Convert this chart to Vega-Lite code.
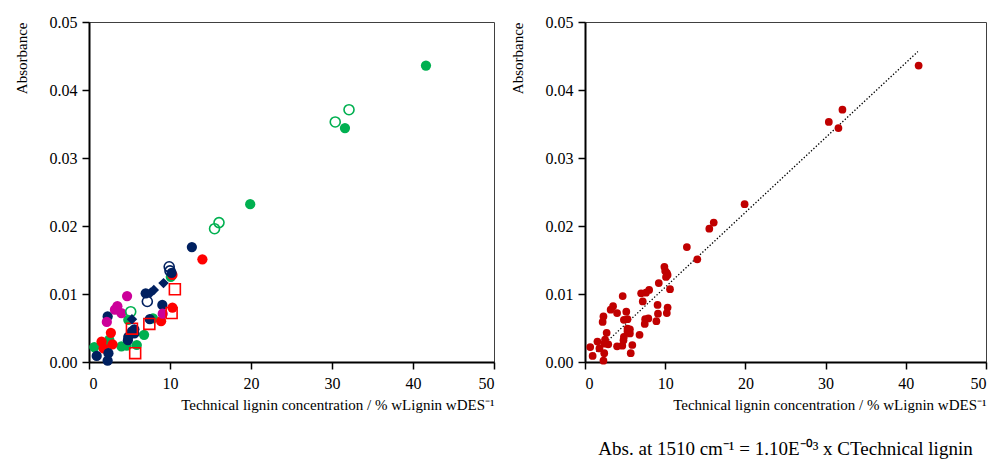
{
  "$schema": "https://vega.github.io/schema/vega-lite/v6.json",
  "padding": {"left": 13, "top": 13, "right": 5, "bottom": 5},
  "spacing": 13,
  "datasets": {
    "pts": [
      {"x": 41.6, "y": 0.0436, "s": "GF"},
      {"x": 31.6, "y": 0.0344, "s": "GF"},
      {"x": 19.9, "y": 0.0232, "s": "GF"},
      {"x": 10.1, "y": 0.0125, "s": "GF"},
      {"x": 7.9, "y": 0.0064, "s": "GF"},
      {"x": 4.85, "y": 0.0062, "s": "GF"},
      {"x": 6.8, "y": 0.0040, "s": "GF"},
      {"x": 5.9, "y": 0.0025, "s": "GF"},
      {"x": 4.0, "y": 0.0023, "s": "GF"},
      {"x": 4.65, "y": 0.0024, "s": "GF"},
      {"x": 2.5, "y": 0.0033, "s": "GF"},
      {"x": 2.4, "y": 0.0027, "s": "GF"},
      {"x": 0.65, "y": 0.0022, "s": "GF"},
      {"x": 32.1, "y": 0.0371, "s": "GO"},
      {"x": 30.4, "y": 0.0353, "s": "GO"},
      {"x": 16.05, "y": 0.0205, "s": "GO"},
      {"x": 15.5, "y": 0.0196, "s": "GO"},
      {"x": 5.15, "y": 0.0074, "s": "GO"},
      {"x": 14.0, "y": 0.0151, "s": "RF"},
      {"x": 10.3, "y": 0.0128, "s": "RF"},
      {"x": 10.3, "y": 0.0080, "s": "RF"},
      {"x": 8.9, "y": 0.0060, "s": "RF"},
      {"x": 2.7, "y": 0.0043, "s": "RF"},
      {"x": 1.55, "y": 0.0030, "s": "RF"},
      {"x": 1.8, "y": 0.0020, "s": "RF"},
      {"x": 2.9, "y": 0.0026, "s": "RF"},
      {"x": 10.6, "y": 0.0107, "s": "RS"},
      {"x": 10.2, "y": 0.0072, "s": "RS"},
      {"x": 7.45, "y": 0.0056, "s": "RS"},
      {"x": 5.3, "y": 0.0049, "s": "RS"},
      {"x": 5.7, "y": 0.0013, "s": "RS"},
      {"x": 12.7, "y": 0.0169, "s": "NF"},
      {"x": 10.2, "y": 0.0131, "s": "NF"},
      {"x": 7.0, "y": 0.0101, "s": "NF"},
      {"x": 9.05, "y": 0.0084, "s": "NF"},
      {"x": 7.5, "y": 0.0063, "s": "NF"},
      {"x": 2.3, "y": 0.0067, "s": "NF"},
      {"x": 5.3, "y": 0.0045, "s": "NF"},
      {"x": 5.6, "y": 0.0048, "s": "NF"},
      {"x": 4.85, "y": 0.0037, "s": "NF"},
      {"x": 4.8, "y": 0.0032, "s": "NF"},
      {"x": 5.6, "y": 0.0042, "s": "NF"},
      {"x": 0.95, "y": 0.0009, "s": "NF"},
      {"x": 2.4, "y": 0.0013, "s": "NF"},
      {"x": 2.3, "y": 0.0002, "s": "NF"},
      {"x": 9.9, "y": 0.0140, "s": "NO"},
      {"x": 10.0, "y": 0.0134, "s": "NO"},
      {"x": 7.2, "y": 0.0089, "s": "NO"},
      {"x": 9.2, "y": 0.0116, "s": "ND"},
      {"x": 8.0, "y": 0.0106, "s": "ND"},
      {"x": 7.6, "y": 0.0102, "s": "ND"},
      {"x": 5.3, "y": 0.0063, "s": "ND"},
      {"x": 4.7, "y": 0.0097, "s": "MF"},
      {"x": 3.5, "y": 0.0082, "s": "MF"},
      {"x": 3.2, "y": 0.0077, "s": "MF"},
      {"x": 4.0, "y": 0.0072, "s": "MF"},
      {"x": 2.2, "y": 0.0059, "s": "MF"},
      {"x": 9.1, "y": 0.0071, "s": "MF"}
    ],
    "fit": [
      {"x": 0.8, "y": 0.00088},
      {"x": 41.5, "y": 0.04565}
    ]
  },
  "hconcat": [
    {
      "width": 405,
      "height": 340,
      "data": {"name": "pts"},
      "encoding": {
        "x": {"field": "x", "type": "quantitative", "scale": {"domain": [0, 50], "nice": false},
              "axis": {"values": [0, 10, 20, 30, 40, 50], "title": "Technical lignin concentration / % wLignin wDES⁻¹", "titleAnchor": "end"}},
        "y": {"field": "y", "type": "quantitative", "scale": {"domain": [0, 0.05], "nice": false},
              "axis": {"values": [0, 0.01, 0.02, 0.03, 0.04, 0.05], "format": ".2f", "title": "Absorbance", "titleAnchor": "end"}}
      },
      "layer": [
        {
          "transform": [{"filter": {"field": "s", "oneOf": ["GF", "RF", "NF", "MF"]}}],
          "mark": {"type": "circle", "size": 105, "opacity": 1},
          "encoding": {"color": {"field": "s", "type": "nominal", "legend": null,
            "scale": {"domain": ["GF", "GO", "RF", "RS", "NF", "NO", "ND", "MF"], "range": ["#00B050", "#00B050", "#FF0000", "#FF0000", "#002060", "#002060", "#002060", "#CC0099"]}}}
        },
        {
          "transform": [{"filter": {"field": "s", "oneOf": ["GO", "NO"]}}],
          "mark": {"type": "point", "shape": "circle", "filled": false, "size": 100, "strokeWidth": 1.6, "opacity": 1},
          "encoding": {"color": {"field": "s", "type": "nominal", "legend": null,
            "scale": {"domain": ["GF", "GO", "RF", "RS", "NF", "NO", "ND", "MF"], "range": ["#00B050", "#00B050", "#FF0000", "#FF0000", "#002060", "#002060", "#002060", "#CC0099"]}}}
        },
        {
          "transform": [{"filter": {"field": "s", "equal": "RS"}}],
          "mark": {"type": "point", "shape": "square", "filled": false, "size": 120, "strokeWidth": 1.6, "color": "#FF0000", "opacity": 1},
          "encoding": {}
        },
        {
          "transform": [{"filter": {"field": "s", "equal": "ND"}}],
          "mark": {"type": "point", "shape": "diamond", "filled": true, "size": 110, "color": "#002060", "opacity": 1},
          "encoding": {}
        }
      ]
    },
    {
      "width": 401,
      "height": 340,
      "title": {"text": "Abs. at 1510 cm⁻¹ = 1.10E⁻⁰³ x CTechnical lignin", "orient": "bottom", "anchor": "middle", "font": "Liberation Serif", "fontSize": 19, "fontWeight": "normal", "color": "black", "offset": 28},
      "layer": [
        {
          "data": {"name": "fit"},
          "mark": {"type": "line", "color": "black", "strokeWidth": 1.3, "strokeDash": [1.3, 2]},
          "encoding": {
            "x": {"field": "x", "type": "quantitative"},
            "y": {"field": "y", "type": "quantitative"}
          }
        },
        {
          "data": {"name": "pts"},
          "mark": {"type": "circle", "size": 60, "color": "#C00000", "opacity": 1},
          "encoding": {
            "x": {"field": "x", "type": "quantitative"},
            "y": {"field": "y", "type": "quantitative"}
          }
        }
      ],
      "encoding": {
        "x": {"field": "x", "type": "quantitative", "scale": {"domain": [0, 50], "nice": false},
              "axis": {"values": [0, 10, 20, 30, 40, 50], "title": "Technical lignin concentration / % wLignin wDES⁻¹", "titleAnchor": "end"}},
        "y": {"field": "y", "type": "quantitative", "scale": {"domain": [0, 0.05], "nice": false},
              "axis": {"values": [0, 0.01, 0.02, 0.03, 0.04, 0.05], "format": ".2f", "title": "Absorbance", "titleAnchor": "end"}}
      }
    }
  ],
  "config": {
    "background": "white",
    "view": {"stroke": "#404040", "strokeWidth": 1},
    "axis": {
      "grid": false,
      "labelFont": "Liberation Serif",
      "titleFont": "Liberation Serif",
      "labelFontSize": 16,
      "titleFontSize": 15,
      "titleFontWeight": "normal",
      "labelColor": "black",
      "titleColor": "black",
      "domainColor": "black",
      "domainWidth": 2,
      "tickColor": "black",
      "tickWidth": 1.5,
      "tickSize": 7,
      "labelPadding": 5,
      "titlePadding": 20
    },
    "axisX": {"titlePadding": 6, "labelPadding": 6}
  }
}
